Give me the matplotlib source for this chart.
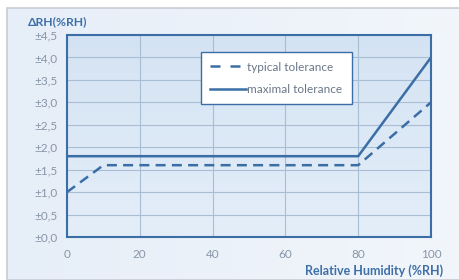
import matplotlib.pyplot as plt
from matplotlib.patches import Rectangle
from matplotlib.lines import Line2D
import numpy as np

plt.rcParams['font.family'] = ['Lato', 'DejaVu Sans']

humidity_typ = [0, 10, 80, 100]
tol_typ = [1.0, 1.6, 1.6, 3.0]
humidity_max = [0, 80, 100]
tol_max = [1.8, 1.8, 4.0]
yticks = [0, 0.5, 1.0, 1.5, 2.0, 2.5, 3.0, 3.5, 4.0, 4.5]
xticks = [0, 20, 40, 60, 80, 100]

blue = '#3a6ea5'
tickc = '#8796a8'
titlec = '#3d6fa8'

fig = plt.figure(figsize=(4.59, 2.80), dpi=100)
fig.patch.set_facecolor('white')

# background panel with soft gradient
bg = fig.add_axes([7/459, 0, 1 - 7/459, 1 - 8/280])
grad = np.linspace(0, 1, 256).reshape(1, -1)
bg.imshow(np.vstack([grad, grad]), aspect='auto', extent=[0, 1, 0, 1],
          cmap=plt.matplotlib.colors.LinearSegmentedColormap.from_list('p', ['#e6eef8', '#f2f6fb']))
bg.set_xlim(0, 1)
bg.set_ylim(0, 1)
bg.axis('off')
bg.add_patch(Rectangle((0, 0), 1.2, 1, fill=False, ec='#c8ccd2', lw=1.2, transform=bg.transAxes, clip_on=False))

ax = fig.add_axes([67/459, 1 - 237/280, (431-67)/459, (237-35)/280])
ax.set_xlim(0, 100)
ax.set_ylim(0, 4.5)
g = np.linspace(0, 1, 256).reshape(-1, 1)
ax.imshow(g, aspect='auto', extent=[0, 100, 0, 4.5], origin='lower', zorder=0,
          cmap=plt.matplotlib.colors.LinearSegmentedColormap.from_list('a', ['#e4eef9', '#d4e3f3']))

ax.set_xticks(xticks)
ax.set_yticks(yticks)
ax.set_yticklabels(['±' + ('%.1f' % v).replace('.', ',') for v in yticks])
ax.grid(True, color='#a9bdd3', lw=0.8, zorder=1)
ax.tick_params(length=0, colors=tickc, labelsize=8.5)
ax.tick_params(axis='x', pad=9)
ax.tick_params(axis='y', pad=7)
for s in ax.spines.values():
    s.set_color(blue)
    s.set_linewidth(1.5)

ax.plot(humidity_typ, tol_typ, color=blue, lw=1.8, dashes=(4, 2.5), zorder=3)
ax.plot(humidity_max, tol_max, color=blue, lw=1.8, zorder=3)

handles = [Line2D([], [], color=blue, lw=1.8, dashes=(4, 4)),
           Line2D([], [], color=blue, lw=1.8)]
leg = ax.legend(handles, ['typical tolerance', 'maximal tolerance'],
                loc='upper left', bbox_to_anchor=(0.368, 0.915), borderaxespad=0,
                fancybox=False, framealpha=1, edgecolor=blue, fontsize=8.5,
                handlelength=3.0, handletextpad=0.1, labelspacing=0.95,
                borderpad=0.8)
leg.get_frame().set_linewidth(1.0)
for t in leg.get_texts():
    t.set_color('#6a7788')

fig.text(28/459, 1 - 22/280, 'ΔRH(%RH)', color=titlec, fontsize=8.7, fontweight='bold', va='center')
fig.text(443/459, 1 - 271/280, 'Relative Humidity (%RH)', color=titlec, fontsize=9,
         fontweight='bold', va='center', ha='right')

fig.savefig('out.png', dpi=100)
